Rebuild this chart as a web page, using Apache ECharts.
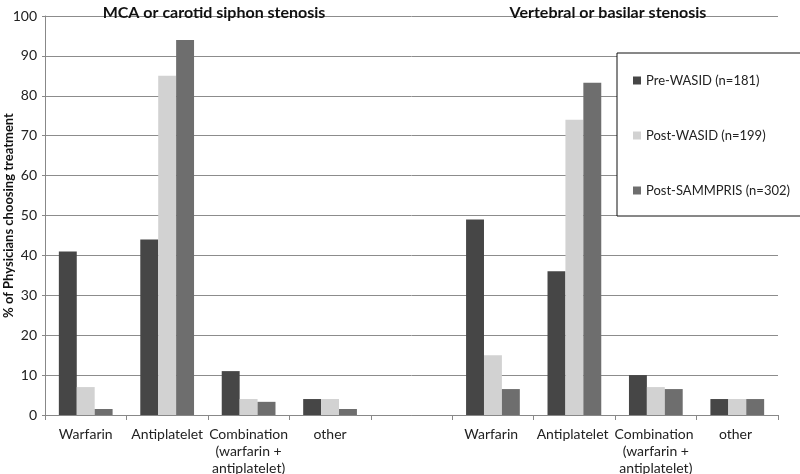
<!DOCTYPE html>
<html>
<head>
<meta charset="utf-8">
<script src="https://cdn.jsdelivr.net/npm/echarts@6/dist/echarts.min.js"></script>
<style>
  html, body { margin: 0; padding: 0; background: #fff; }
  #chart { width: 800px; height: 474px; }
</style>
</head>
<body>
<div id="chart"></div>
<script>
// categories: two groups separated by an empty slot
const categories = ['Warfarin', 'Antiplatelet', 'Combination\n(warfarin +\nantiplatelet)', 'other', '',
  'Warfarin ', 'Antiplatelet ', 'Combination \n(warfarin +\nantiplatelet)', 'other ']
const seriesNames = ['Pre-WASID (n=181)', 'Post-WASID (n=199)', 'Post-SAMMPRIS (n=302)']
const preWasid = [41, 44, 11, 4, null, 49, 36, 10, 4]
const postWasid = [7, 85, 4, 4, null, 15, 74, 7, 4]
const postSammpris = [1.5, 94, 3.3, 1.5, null, 6.5, 83.3, 6.5, 4]
const yTicks = { min: 0, max: 100, interval: 10 }
const colors = ['#464646', '#d2d2d2', '#6e6e6e']

const chart = echarts.init(document.getElementById('chart'))
const font = 'Lato, "Open Sans", sans-serif'

const option = {
  animation: false,
  textStyle: { fontFamily: font },
  title: [
    { text: 'MCA or carotid siphon stenosis', left: 209, top: 0, textAlign: 'center',
      textStyle: { fontSize: 16, fontWeight: 'bold', color: '#111', fontFamily: font } },
    { text: 'Vertebral or basilar stenosis', left: 603, top: 0, textAlign: 'center',
      textStyle: { fontSize: 16, fontWeight: 'bold', color: '#111', fontFamily: font } }
  ],
  legend: {
    orient: 'vertical',
    left: 617, top: 53,
    padding: [21, 20, 19, 16],
    itemGap: 42,
    itemWidth: 8, itemHeight: 8,
    icon: 'rect',
    backgroundColor: '#fff',
    borderColor: '#111', borderWidth: 1,
    textStyle: { fontSize: 13, color: '#222', fontFamily: font },
    data: seriesNames
  },
  grid: { left: 45, right: 22, top: 16, bottom: 59, outerBoundsMode: 'none' },
  xAxis: {
    type: 'category',
    data: categories,
    axisLine: { lineStyle: { color: '#888' } },
    axisTick: { show: true, length: 5, lineStyle: { color: '#888' } },
    axisLabel: { fontSize: 14, color: '#222', lineHeight: 17, margin: 11, interval: 0, fontFamily: font }
  },
  yAxis: {
    type: 'value',
    min: yTicks.min, max: yTicks.max, interval: yTicks.interval,
    name: '% of Physicians choosing treatment',
    nameLocation: 'middle',
    nameGap: 30,
    nameMoveOverlap: false,
    nameTextStyle: { fontSize: 13, fontWeight: 'bold', color: '#111', fontFamily: font },
    axisLine: { show: true, lineStyle: { color: '#888' } },
    axisTick: { show: true, length: 3, lineStyle: { color: '#888' } },
    axisLabel: { fontSize: 14, color: '#222', margin: 8, fontFamily: font },
    splitLine: { lineStyle: { color: '#8c8c8c' } }
  },
  series: [
    { name: seriesNames[0], type: 'bar', data: preWasid, itemStyle: { color: colors[0] }, barGap: '0%', barCategoryGap: '34%' },
    { name: seriesNames[1], type: 'bar', data: postWasid, itemStyle: { color: colors[1] }, barGap: '0%', barCategoryGap: '34%' },
    { name: seriesNames[2], type: 'bar', data: postSammpris, itemStyle: { color: colors[2] }, barGap: '0%', barCategoryGap: '34%' }
  ]
}
chart.setOption(option)
</script>
</body>
</html>
